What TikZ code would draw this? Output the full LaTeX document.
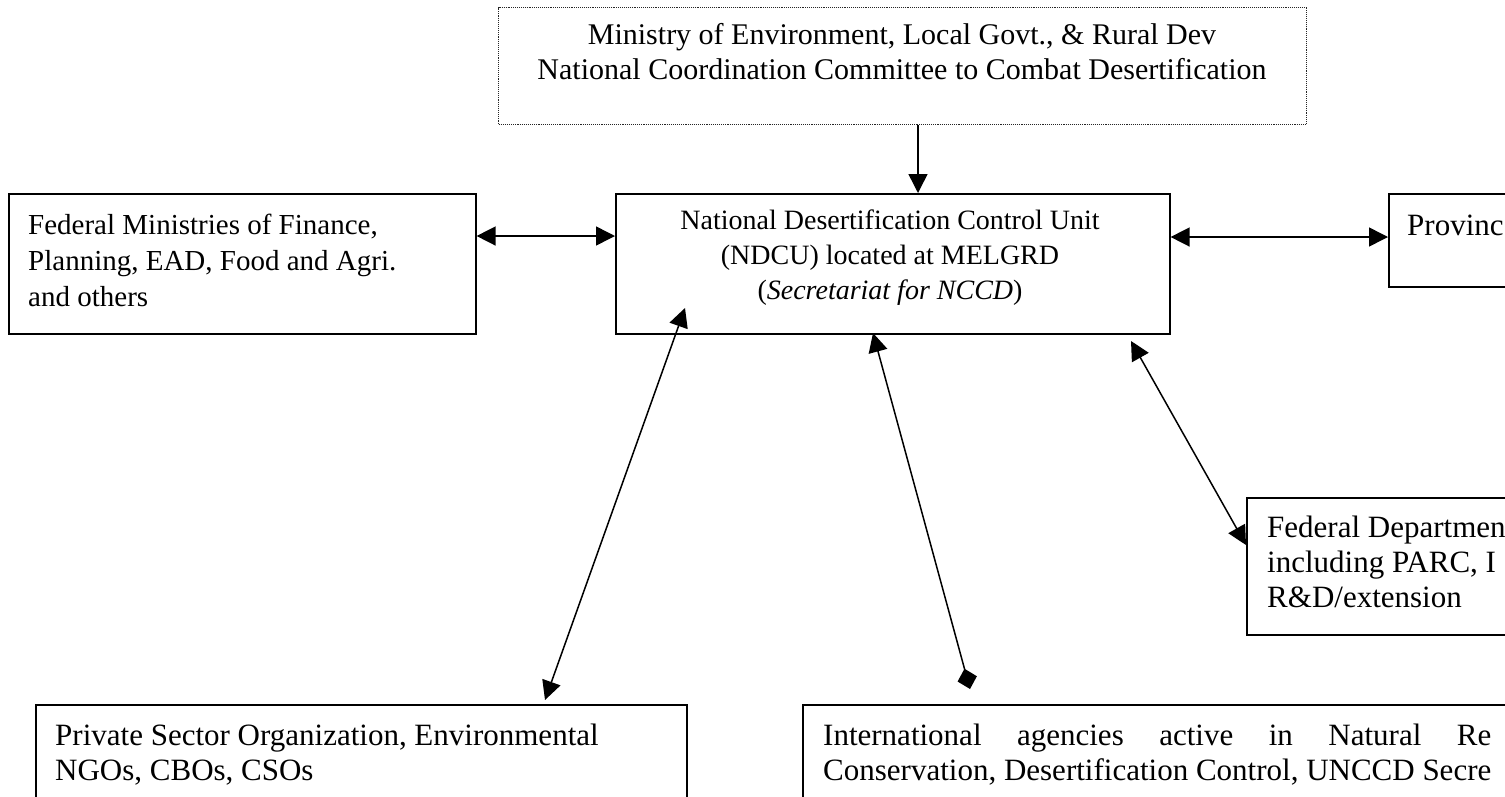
\documentclass[tikz,border=0pt]{standalone}
\usepackage{fontspec}
\setmainfont{Liberation Serif}
\usetikzlibrary{arrows.meta}
\begin{document}
\begin{tikzpicture}[x=1pt,y=-1pt,
  box/.style={draw=black,line width=1.6pt,rectangle,inner sep=0pt,anchor=north west},
  dotbox/.style={draw=black!85,line width=1.1pt,densely dotted,rectangle,inner sep=0pt,anchor=north west},
  txt/.style={inner sep=0pt,font=\fontsize{28}{35}\selectfont},
  txtbig/.style={inner sep=0pt,font=\fontsize{31}{35}\selectfont},
  conn/.style={line width=1.5pt,draw=black},
  arr/.style={conn,-{Triangle[length=19pt,width=19pt]}},
  dbl/.style={conn,{Triangle[length=19pt,width=19pt]}-{Triangle[length=19pt,width=19pt]}},
  dia/.style={conn,{Triangle[length=19pt,width=19pt]}-{Diamond[length=21pt,width=20pt]}}
]
\useasboundingbox (0,0) rectangle (1505,796);
\clip (0,0) rectangle (1505,796);
\fill[white] (0,0) rectangle (1505,796);

% boxes
\node[dotbox,minimum width=808pt,minimum height=117pt] (top) at (498,7) {};
\node[box,minimum width=554pt,minimum height=140pt] (ndcu) at (615,193) {};
\node[box,minimum width=467pt,minimum height=140pt] (left) at (8,193) {};
\node[box,minimum width=400pt,minimum height=93pt] (prov) at (1388,193) {};
\node[box,minimum width=400pt,minimum height=137pt] (fed) at (1246,497) {};
\node[box,minimum width=651pt,minimum height=200pt] (priv) at (35,704) {};
\node[box,minimum width=900pt,minimum height=200pt] (intl) at (802,704) {};

% texts
\node[txt,font=\fontsize{30}{35}\selectfont,align=center] (toptxt) at (902,52) {Ministry of Environment, Local Govt., \& Rural Dev\\National Coordination Committee to Combat Desertification};
\node[txt,align=center] (ndcutxt) at (890,258) {National Desertification Control Unit\\(NDCU) located at MELGRD\\(\textit{Secretariat for NCCD})};
\node[txt,font=\fontsize{29}{36}\selectfont,align=left,anchor=west] (lefttxt) at (28,260) {Federal Ministries of Finance,\\Planning, EAD, Food and Agri.\\and others};
\node[txtbig,anchor=west] (provtxt) at (1407,225) {Provinc};
\node[txtbig,align=left,anchor=west] (fedtxt) at (1267,562) {Federal Departmen\\including PARC, I\\R\&D/extension};
\node[txtbig,align=left,anchor=west] (privtxt) at (55,755) {Private Sector Organization, Environmental\\NGOs, CBOs, CSOs};
\node[txtbig,align=left,anchor=west] (intltxt) at (823,755) {\makebox[668pt][s]{International agencies active in Natural Re}\\Conservation, Desertification Control, UNCCD Secre};

% connector anchors
\coordinate (cx) at (918,0);
\coordinate (ly) at (0,236);
\coordinate (ry) at (0,237);
\coordinate (p1) at (685,308);
\coordinate (p2) at (545,700);
\coordinate (i1) at (873,333);
\coordinate (i2) at (970,689);
\coordinate (f1) at (1131,341);
\coordinate (f2) at (1246,545);

% connectors
\draw[arr] (top.south -| cx) -- (ndcu.north -| cx);
\draw[dbl] (left.east |- ly) -- (ndcu.west |- ly);
\draw[dbl] (ndcu.east |- ry) -- (prov.west |- ry);
\draw[dbl] (p1) -- (p2);
\draw[dia] (i1) -- (i2);
\draw[dbl] (f1) -- (f2);
\end{tikzpicture}
\end{document}
